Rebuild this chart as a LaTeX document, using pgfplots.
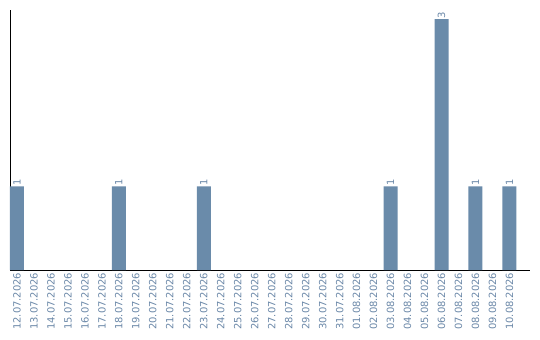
\documentclass[border=0pt]{standalone}
\usepackage{pgfplots}
\pgfplotsset{compat=1.18}
\usepackage{fontspec}
\setmainfont{DejaVu Sans}
\definecolor{barblue}{HTML}{6A8BAA}
\definecolor{lblblue}{HTML}{6B88A8}
\begin{document}
\begin{tikzpicture}
\begin{axis}[
  at={(0,0)}, anchor=south west,
  scale only axis,
  width=520bp, height=260bp,
  xmin=-0.41, xmax=30.21,
  ymin=0, ymax=3.11,
  axis x line*=bottom, axis y line*=left,
  axis line style={black, line width=0.9pt},
  ytick=\empty,
  xtick={0,...,29},
  xticklabels={12.07.2026,13.07.2026,14.07.2026,15.07.2026,16.07.2026,17.07.2026,18.07.2026,19.07.2026,20.07.2026,21.07.2026,22.07.2026,23.07.2026,24.07.2026,25.07.2026,26.07.2026,27.07.2026,28.07.2026,29.07.2026,30.07.2026,31.07.2026,01.08.2026,02.08.2026,03.08.2026,04.08.2026,05.08.2026,06.08.2026,07.08.2026,08.08.2026,09.08.2026,10.08.2026},
  xticklabel style={rotate=90, anchor=east, font=\fontsize{10}{11}\selectfont, text=lblblue, inner sep=2.5pt},
  major tick length=0pt,
  ybar, bar width=14bp, bar shift=0pt,
  /pgf/number format/assume math mode=true,
  nodes near coords={\pgfmathprintnumber{\pgfplotspointmeta}},
  every node near coord/.append style={rotate=90, anchor=west, font=\fontsize{10}{11}\selectfont, text=lblblue, inner sep=1pt},
  clip=false,
]
\addplot[fill=barblue, draw=none] coordinates {
  (0,1) (6,1) (11,1) (22,1) (25,3) (27,1) (29,1)
};
\end{axis}
\pgfresetboundingbox
\path (-10bp,-70bp) rectangle (530bp,270bp);
\end{tikzpicture}
\end{document}
